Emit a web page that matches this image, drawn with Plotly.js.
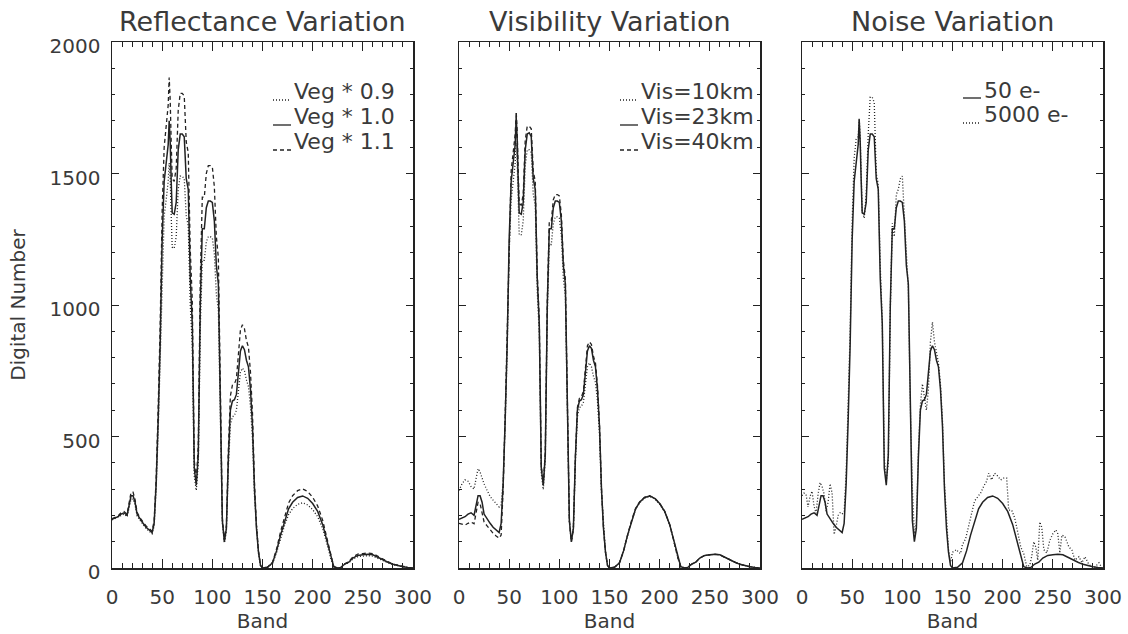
<!DOCTYPE html>
<html>
<head>
<meta charset="utf-8">
<script src="https://cdn.plot.ly/plotly-3.0.1.min.js"></script>
<style>html,body{margin:0;padding:0;background:#fff;}#chart{width:1128px;height:634px;}</style>
</head>
<body>
<div id="chart"></div>
<script>
// ---------------- data ----------------
const panelTitles = ["Reflectance Variation", "Visibility Variation", "Noise Variation"];
const xTitle = "Band";
const yTitle = "Digital Number";
const legend1 = ["Veg * 0.9", "Veg * 1.0", "Veg * 1.1"];
const legend2 = ["Vis=10km", "Vis=23km", "Vis=40km"];
const legend3 = ["50 e-", "5000 e-"];

const bands = [0,3,6,9,12,15,17,19,21,23,
  25,28,31,34,37,40,42,44,46,48,
  50,52,54,56,57,58,59,60,62,64,
  66,68,70,72,74,76,78,80,82,84,
  86,88,90,92,94,96,98,100,102,104,
  106,108,110,112,114,116,118,120,122,124,
  126,128,130,132,134,136,138,140,142,144,
  146,148,150,155,160,164,168,172,176,180,
  185,190,195,200,205,210,214,218,221,225,
  228,232,236,240,245,250,255,260,265,270,
  275,280,285,290,295,300];

// Panel 1 : reflectance variation
const veg10 = [185,190,195,205,210,200,240,275,275,250,
  205,185,170,155,145,135,170,320,560,850,
  1250,1470,1540,1610,1700,1620,1470,1350,1345,1390,
  1590,1650,1650,1640,1480,1440,1100,930,380,315,
  430,1000,1290,1290,1370,1395,1395,1390,1320,1150,
  1080,600,180,100,150,420,600,635,640,660,
  750,825,845,830,790,765,680,540,300,150,
  60,10,0,3,20,65,125,180,225,250,
  268,274,265,245,215,165,105,40,5,0,
  2,15,22,38,48,50,52,50,40,30,
  22,14,9,5,2,0];
const veg09 = [183,188,192,200,205,195,232,262,262,240,
  198,180,165,150,140,130,160,300,515,780,
  1140,1340,1400,1470,1540,1480,1340,1220,1215,1260,
  1440,1490,1490,1480,1340,1300,1000,850,350,295,
  395,910,1170,1170,1240,1260,1260,1255,1195,1040,
  980,545,170,95,140,385,545,575,580,600,
  680,745,760,750,715,690,615,490,275,140,
  55,9,0,3,18,58,112,162,203,226,
  242,248,240,222,195,150,95,36,5,0,
  2,14,20,34,43,45,47,45,36,27,
  20,13,8,5,2,0];
const veg11 = [187,192,198,210,215,205,248,288,288,260,
  212,190,175,160,150,140,180,340,605,920,
  1360,1600,1680,1760,1865,1780,1620,1480,1470,1520,
  1740,1805,1805,1795,1620,1580,1210,1020,410,330,
  470,1100,1410,1410,1500,1530,1530,1525,1450,1260,
  1180,655,190,105,160,455,655,695,700,720,
  820,905,925,910,865,840,745,590,325,160,
  65,11,0,3,22,72,138,198,247,275,
  294,301,291,269,236,181,115,44,5,0,
  2,16,24,42,53,55,57,55,44,33,
  24,15,10,5,2,0];

// Panel 2 : visibility variation
const vis23 = [185,190,195,205,210,200,240,275,275,250,
  205,185,170,155,145,135,170,320,560,850,
  1250,1470,1540,1610,1715,1630,1470,1350,1345,1390,
  1590,1650,1655,1640,1480,1440,1100,930,380,315,
  430,1000,1290,1290,1370,1395,1395,1390,1320,1150,
  1080,600,180,100,150,420,600,635,640,660,
  750,825,845,835,790,765,680,540,300,150,
  60,10,0,3,20,65,125,180,225,250,
  268,274,265,245,215,165,105,40,5,0,
  2,15,22,38,48,50,52,50,40,30,
  22,14,9,5,2,0];
const vis10 = [295,320,335,330,310,300,340,378,365,340,
  320,295,272,258,245,232,240,330,545,820,
  1200,1400,1470,1540,1615,1540,1400,1270,1265,1320,
  1530,1590,1590,1580,1420,1380,1050,890,360,298,
  410,960,1230,1230,1310,1335,1335,1330,1265,1100,
  1035,575,175,100,150,405,575,610,615,630,
  700,765,780,765,730,705,635,510,290,150,
  62,12,0,3,20,65,124,178,223,248,
  266,272,263,243,213,164,104,40,5,0,
  2,15,22,38,48,50,52,50,40,30,
  22,14,9,5,2,0];
const vis40 = [170,165,163,170,175,168,205,250,245,215,
  175,160,145,132,122,113,125,300,575,880,
  1290,1510,1580,1650,1735,1660,1510,1385,1380,1420,
  1625,1680,1680,1670,1510,1470,1120,950,390,320,
  440,1020,1320,1320,1400,1420,1420,1415,1345,1170,
  1100,610,180,100,150,425,610,645,650,672,
  770,845,860,850,805,780,695,550,305,150,
  60,10,0,3,20,65,125,181,226,251,
  269,275,266,246,216,166,105,40,5,0,
  2,15,22,38,48,50,52,50,40,30,
  22,14,9,5,2,0];

// Panel 3 : noise variation
const noise50 = [185,190,195,205,210,200,240,275,275,250,
  205,185,170,155,145,135,170,320,560,850,
  1250,1470,1540,1610,1705,1620,1470,1350,1345,1390,
  1590,1650,1650,1640,1480,1440,1100,930,380,315,
  430,1000,1290,1290,1370,1395,1395,1390,1320,1150,
  1080,600,180,100,150,420,600,635,640,660,
  750,825,845,830,790,765,680,540,300,150,
  60,10,0,3,20,65,125,180,225,250,
  268,274,265,245,215,165,105,40,5,0,
  2,15,22,38,48,50,52,50,40,30,
  22,14,9,5,2,0];
const noiseBands = [0,2,4,6,8,10,12,14,16,18,20,22,24,26,28,30,32,34,36,38,40,42,44,46,48,
  50,52,54,56,57,58,59,60,62,64,66,68,70,72,74,76,78,80,82,84,86,88,90,92,94,96,98,100,
  102,104,106,108,110,112,114,116,118,120,122,124,126,128,130,132,134,136,138,140,142,144,146,148,
  150,152,154,156,158,160,163,166,169,172,175,178,181,184,186,189,192,195,198,201,204,206,209,212,
  214,216,218,221,224,227,229,231,233,235,237,239,241,244,247,250,253,255,257,259,262,266,269,272,
  276,279,282,286,291,296,299];
const noise5000 = [275,285,280,232,272,292,235,208,280,325,310,282,215,250,320,285,128,158,200,210,205,215,360,590,900,
  1320,1560,1630,1640,1710,1640,1500,1360,1330,1420,1650,1790,1790,1770,1500,1460,1150,940,420,330,400,980,1310,1260,1420,1440,1480,1490,
  1340,1180,1060,610,300,130,170,450,620,700,640,600,680,860,935,860,820,780,700,560,320,170,70,20,
  60,65,70,60,55,90,110,158,205,255,270,285,310,330,360,335,360,350,335,342,342,220,220,190,
  155,110,80,55,5,10,45,100,80,30,175,155,70,57,105,130,145,130,57,125,120,80,68,30,
  43,20,43,13,0,20,0];

// ---------------- layout helpers ----------------
const W = 1128, H = 634;
const px = v => v / W;
const py = v => 1 - v / H;
const ink = '#222';
const txt = '#3a3a3a';
const fontFam = 'DejaVu Sans, sans-serif';
const panels = [[112, 413], [459, 760], [802, 1103]];
const yTop = 42, yBot = 568;

const solid = {color: ink, width: 1.5};
const dotted = {color: ink, width: 1.3, dash: '1px,2px'};
const dashed = {color: ink, width: 1.3, dash: '4px,3px'};

const traces = [
  {x: bands, y: veg09, xaxis: 'x', yaxis: 'y', name: legend1[0], line: dotted},
  {x: bands, y: veg10, xaxis: 'x', yaxis: 'y', name: legend1[1], line: solid},
  {x: bands, y: veg11, xaxis: 'x', yaxis: 'y', name: legend1[2], line: dashed},
  {x: bands, y: vis10, xaxis: 'x2', yaxis: 'y2', name: legend2[0], line: dotted},
  {x: bands, y: vis23, xaxis: 'x2', yaxis: 'y2', name: legend2[1], line: solid},
  {x: bands, y: vis40, xaxis: 'x2', yaxis: 'y2', name: legend2[2], line: dashed},
  {x: bands, y: noise50, xaxis: 'x3', yaxis: 'y3', name: legend3[0], line: solid},
  {x: noiseBands, y: noise5000, xaxis: 'x3', yaxis: 'y3', name: legend3[1], line: dotted}
].map(t => Object.assign({type: 'scatter', mode: 'lines', showlegend: false, hoverinfo: 'skip'}, t));

function xAxis(i) {
  return {
    domain: [px(panels[i][0]), px(panels[i][1])],
    anchor: i === 0 ? 'y' : 'y' + (i + 1),
    range: [0, 300], tick0: 0, dtick: 50,
    ticks: 'inside', ticklen: 9, tickwidth: 1, tickcolor: ink,
    minor: {dtick: 10, ticks: 'inside', ticklen: 5, tickwidth: 1, tickcolor: ink},
    mirror: 'allticks', showline: true, linecolor: ink, linewidth: 1.5,
    showgrid: false, zeroline: false,
    tickfont: {family: fontFam, size: 20, color: txt},
    ticklabelstandoff: 10,
    title: {text: xTitle, font: {family: fontFam, size: 20, color: txt}, standoff: 6}
  };
}
function yAxis(i) {
  return {
    domain: [py(yBot), py(yTop)],
    anchor: i === 0 ? 'x' : 'x' + (i + 1),
    range: [0, 2000], tick0: 0, dtick: 500,
    ticks: 'inside', ticklen: 7, tickwidth: 1, tickcolor: ink,
    minor: {dtick: 100, ticks: 'inside', ticklen: 3, tickwidth: 1, tickcolor: ink},
    mirror: 'allticks', showline: true, linecolor: ink, linewidth: 1.5,
    showgrid: false, zeroline: false,
    showticklabels: i === 0,
    tickfont: {family: fontFam, size: 20, color: txt},
    ticklabelshift: 4, ticklabelstandoff: 6,
    title: i === 0 ? {text: yTitle, font: {family: fontFam, size: 20, color: txt}, standoff: 18} : {text: ''}
  };
}

const annotations = [];
const shapes = [];
panelTitles.forEach((t, i) => {
  annotations.push({text: t, xref: 'paper', yref: 'paper', x: px((panels[i][0] + panels[i][1]) / 2), y: py(21),
    xanchor: 'center', yanchor: 'middle', showarrow: false, font: {family: fontFam, size: 27, color: txt}});
});
// legends inside panels
const legendSpecs = [
  {labels: legend1, styles: [dotted, solid, dashed], x0: 273, rows: [92, 117, 142]},
  {labels: legend2, styles: [dotted, solid, dashed], x0: 620, rows: [92, 117, 142]},
  {labels: legend3, styles: [solid, dotted], x0: 963, rows: [90, 115]}
];
legendSpecs.forEach(spec => {
  spec.labels.forEach((lab, k) => {
    const yc = spec.rows[k];
    shapes.push({type: 'line', xref: 'paper', yref: 'paper', x0: px(spec.x0), x1: px(spec.x0 + 18),
      y0: py(yc + 8), y1: py(yc + 8), line: Object.assign({}, spec.styles[k], {width: 1.3})});
    annotations.push({text: lab, xref: 'paper', yref: 'paper', x: px(spec.x0 + 19), y: py(yc),
      xanchor: 'left', yanchor: 'middle', showarrow: false, font: {family: fontFam, size: 22, color: txt}});
  });
});

const layout = {
  width: W, height: H,
  margin: {l: 0, r: 0, t: 0, b: 0},
  paper_bgcolor: '#fff', plot_bgcolor: '#fff',
  showlegend: false,
  font: {family: fontFam, color: txt},
  xaxis: xAxis(0), xaxis2: xAxis(1), xaxis3: xAxis(2),
  yaxis: yAxis(0), yaxis2: yAxis(1), yaxis3: yAxis(2),
  annotations: annotations, shapes: shapes
};

Plotly.newPlot('chart', traces, layout, {staticPlot: true, displayModeBar: false});
</script>
</body>
</html>
